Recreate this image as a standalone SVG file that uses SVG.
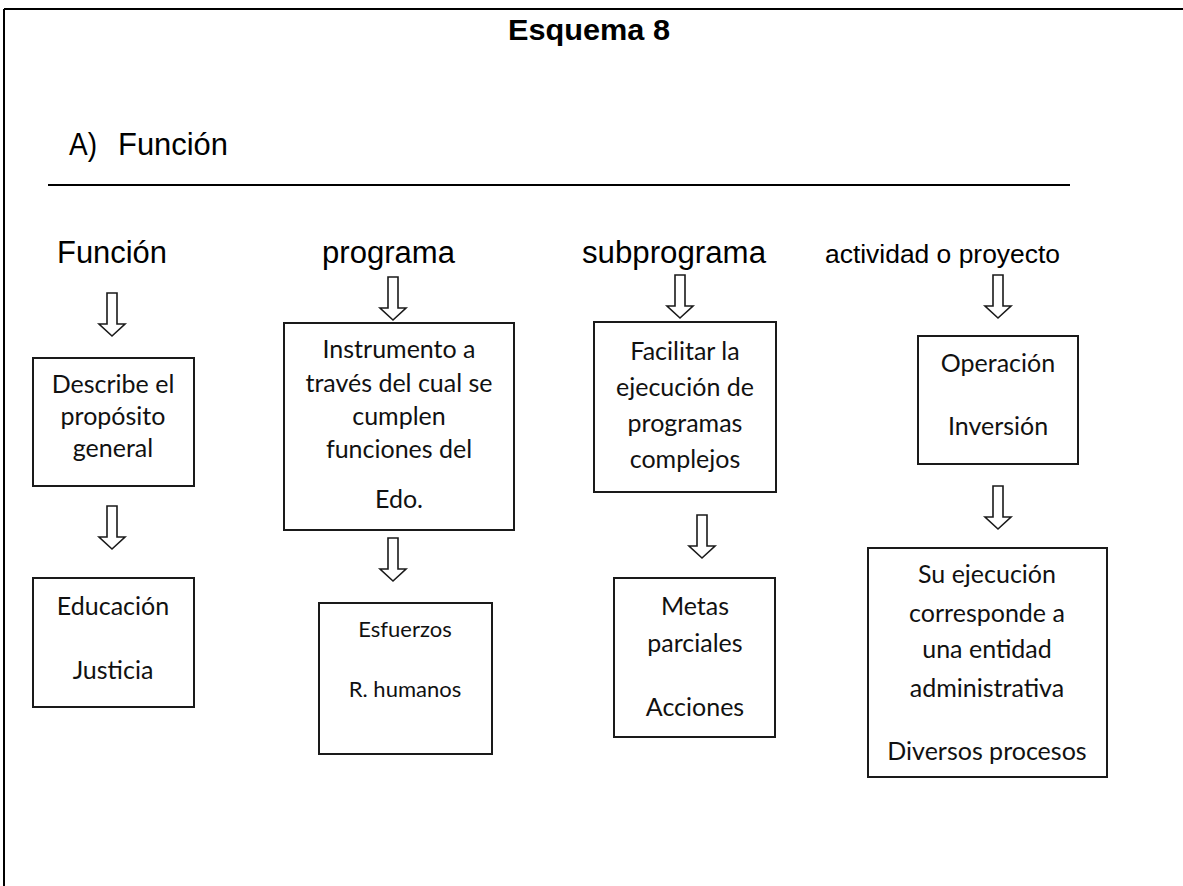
<svg xmlns="http://www.w3.org/2000/svg" width="1183" height="886" viewBox="0 0 1183 886">
<style>
.bg{fill:#fff}
.frame{stroke:#000;stroke-width:2;fill:none}
.box{fill:#fff;stroke:#1a1a1a;stroke-width:2}
.arr{fill:#fff;stroke:#1a1a1a;stroke-width:1.6;stroke-linejoin:miter}
.hdr{font-family:"Liberation Sans",Arial,sans-serif;font-size:31px;fill:#000}
.hdr-s{font-family:"Liberation Sans",Arial,sans-serif;font-size:26.5px;fill:#000}
.ttl{font-family:"Liberation Sans",Arial,sans-serif;font-size:30px;font-weight:bold;fill:#000}
.t{font-family:Lato,"Noto Sans",sans-serif;font-size:25px;fill:#111;text-anchor:middle}
.ts{font-family:Lato,"Noto Sans",sans-serif;font-size:22px;fill:#111;text-anchor:middle}
</style>
<defs>
<path id="dn" d="M-5,0 H5 V31 H13 L0,43 L-13,31 H-5 Z"/>
</defs>
<rect class="bg" x="0" y="0" width="1183" height="886"/>
<g id="frame">
<line class="frame" x1="4" y1="9" x2="1183" y2="9"/>
<line class="frame" x1="4" y1="9" x2="4" y2="886"/>
<line x1="48" y1="185" x2="1070" y2="185" stroke="#000" stroke-width="2"/>
</g>
<g id="title">
<text class="ttl" x="508" y="40" textLength="162" lengthAdjust="spacingAndGlyphs">Esquema 8</text>
<text class="hdr" x="69" y="155" textLength="28" lengthAdjust="spacingAndGlyphs">A)</text>
<text class="hdr" x="118" y="155" textLength="110" lengthAdjust="spacingAndGlyphs">Función</text>
</g>
<g id="headers">
<text class="hdr" x="57" y="263" textLength="110" lengthAdjust="spacingAndGlyphs">Función</text>
<text class="hdr" x="322" y="263" textLength="133" lengthAdjust="spacingAndGlyphs">programa</text>
<text class="hdr" x="582" y="263" textLength="184" lengthAdjust="spacingAndGlyphs">subprograma</text>
<text class="hdr-s" x="825" y="263" textLength="235" lengthAdjust="spacingAndGlyphs">actividad o proyecto</text>
</g>
<g id="connectors">
<use href="#dn" class="arr" transform="translate(112,293)"/>
<use href="#dn" class="arr" transform="translate(112,506)"/>
<use href="#dn" class="arr" transform="translate(393,277)"/>
<use href="#dn" class="arr" transform="translate(393,538)"/>
<use href="#dn" class="arr" transform="translate(680,275)"/>
<use href="#dn" class="arr" transform="translate(702,515)"/>
<use href="#dn" class="arr" transform="translate(998,275)"/>
<use href="#dn" class="arr" transform="translate(998,486)"/>
</g>
<g id="n-funcion">
<rect class="box" x="33" y="358" width="161" height="128"/>
<text class="t" x="113" y="393">Describe el</text>
<text class="t" x="113" y="425">propósito</text>
<text class="t" x="113" y="457">general</text>
</g>
<g id="n-educacion">
<rect class="box" x="33" y="578" width="161" height="129"/>
<text class="t" x="113" y="615">Educación</text>
<text class="t" x="113" y="679">Justicia</text>
</g>
<g id="n-programa">
<rect class="box" x="284" y="323" width="230" height="207"/>
<text class="t" x="399" y="358">Instrumento a</text>
<text class="t" x="399" y="392">través del cual se</text>
<text class="t" x="399" y="425">cumplen</text>
<text class="t" x="399" y="458">funciones del</text>
<text class="t" x="399" y="508">Edo.</text>
</g>
<g id="n-esfuerzos">
<rect class="box" x="319" y="603" width="173" height="151"/>
<text class="ts" x="405" y="637">Esfuerzos</text>
<text class="ts" x="405" y="697">R. humanos</text>
</g>
<g id="n-subprograma">
<rect class="box" x="594" y="322" width="182" height="170"/>
<text class="t" x="685" y="360">Facilitar la</text>
<text class="t" x="685" y="396">ejecución de</text>
<text class="t" x="685" y="432">programas</text>
<text class="t" x="685" y="468">complejos</text>
</g>
<g id="n-metas">
<rect class="box" x="614" y="578" width="161" height="159"/>
<text class="t" x="695" y="615">Metas</text>
<text class="t" x="695" y="652">parciales</text>
<text class="t" x="695" y="716">Acciones</text>
</g>
<g id="n-actividad">
<rect class="box" x="918" y="336" width="160" height="128"/>
<text class="t" x="998" y="372">Operación</text>
<text class="t" x="998" y="435">Inversión</text>
</g>
<g id="n-ejecucion">
<rect class="box" x="868" y="548" width="239" height="229"/>
<text class="t" x="987" y="583">Su ejecución</text>
<text class="t" x="987" y="622">corresponde a</text>
<text class="t" x="987" y="658">una entidad</text>
<text class="t" x="987" y="697">administrativa</text>
<text class="t" x="987" y="760">Diversos procesos</text>
</g>
</svg>
